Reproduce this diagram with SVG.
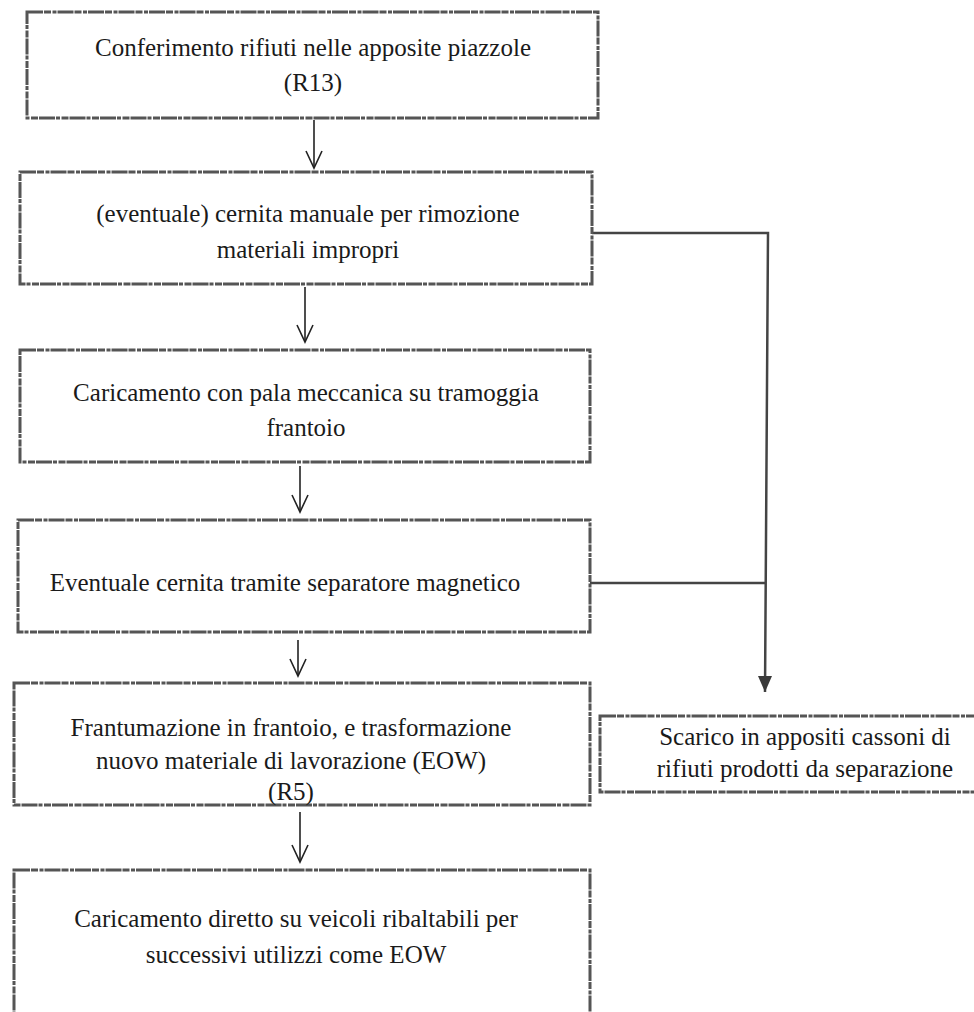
<svg xmlns="http://www.w3.org/2000/svg" width="974" height="1012" viewBox="0 0 974 1012">
<style>
.box{fill:none;stroke:#555;stroke-width:3;stroke-dasharray:16 1 7 1.5 4 1}
.t{font-family:"Liberation Serif","Times New Roman",serif;font-size:25px;fill:#1a1a1a;text-anchor:middle}
.c{fill:none;stroke:#222;stroke-width:1.6}
.c2{fill:none;stroke:#444;stroke-width:2.5}
</style>
<defs>
<marker id="open" viewBox="0 0 20 22" refX="10" refY="20" markerWidth="20" markerHeight="22" markerUnits="userSpaceOnUse">
<path d="M2,3 L10,20 L18,3" fill="none" stroke="#222" stroke-width="1.6"/>
</marker>
<marker id="filled" viewBox="0 0 16 18" refX="8" refY="17" markerWidth="16" markerHeight="18" markerUnits="userSpaceOnUse">
<path d="M1,1 L8,17 L15,1 Z" fill="#3a3a3a"/>
</marker>
</defs>
<rect width="974" height="1012" fill="#fff"/>
<g id="connectors">
<line class="c" x1="314" y1="120" x2="314" y2="168" marker-end="url(#open)"/>
<line class="c" x1="305" y1="287" x2="305" y2="342" marker-end="url(#open)"/>
<line class="c" x1="300" y1="466" x2="300" y2="512" marker-end="url(#open)"/>
<line class="c" x1="298" y1="640" x2="298" y2="676" marker-end="url(#open)"/>
<line class="c" x1="300" y1="812" x2="300" y2="862" marker-end="url(#open)"/>
<polyline class="c2" points="592,233 768,233 765,692" marker-end="url(#filled)"/>
<line class="c2" x1="590" y1="583" x2="766" y2="583"/>
</g>
<g id="n1">
<rect class="box" x="27" y="12" width="571" height="106"/>
<text class="t" x="313" y="56">Conferimento rifiuti nelle apposite piazzole</text>
<text class="t" x="313" y="91">(R13)</text>
</g>
<g id="n2">
<rect class="box" x="20" y="172" width="572" height="112"/>
<text class="t" x="308" y="222">(eventuale) cernita manuale per rimozione</text>
<text class="t" x="308" y="258">materiali impropri</text>
</g>
<g id="n3">
<rect class="box" x="20" y="350" width="570" height="112"/>
<text class="t" x="306" y="401">Caricamento con pala meccanica su tramoggia</text>
<text class="t" x="306" y="436">frantoio</text>
</g>
<g id="n4">
<rect class="box" x="18" y="520" width="572" height="112"/>
<text class="t" x="285" y="591">Eventuale cernita tramite separatore magnetico</text>
</g>
<g id="n5">
<rect class="box" x="14" y="683" width="576" height="122"/>
<text class="t" x="291" y="736">Frantumazione in frantoio,  e trasformazione</text>
<text class="t" x="291" y="769">nuovo materiale di lavorazione (EOW)</text>
<text class="t" x="291" y="800">(R5)</text>
</g>
<g id="n6">
<rect class="box" x="14" y="870" width="576" height="150"/>
<text class="t" x="296" y="927">Caricamento diretto su veicoli ribaltabili per</text>
<text class="t" x="296" y="963">successivi utilizzi come EOW</text>
</g>
<g id="n7">
<rect class="box" x="600" y="716" width="384" height="76"/>
<text class="t" x="805" y="745">Scarico in appositi cassoni di</text>
<text class="t" x="805" y="777">rifiuti prodotti da separazione</text>
</g>
</svg>
